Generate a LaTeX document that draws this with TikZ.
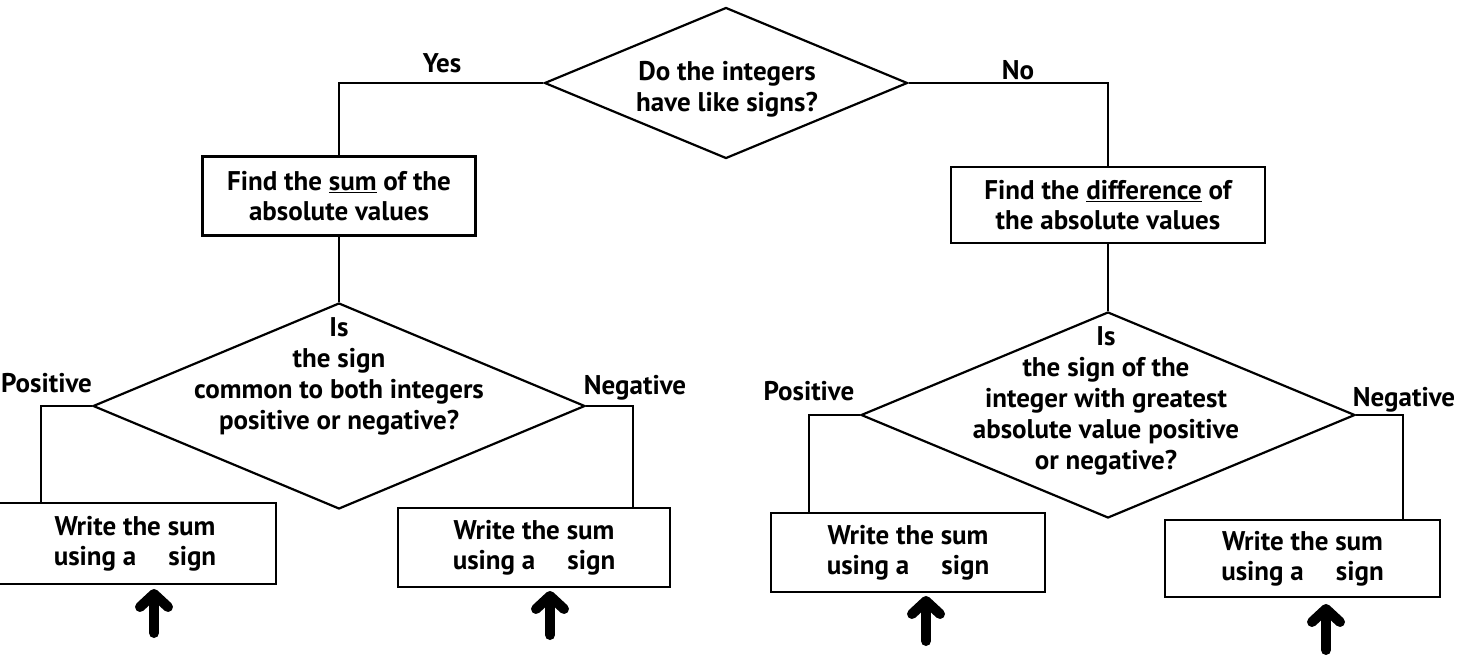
\documentclass[tikz,border=0pt]{standalone}
\usepackage{fontspec}
\setmainfont{PT Sans}
\usetikzlibrary{shapes.geometric,arrows.meta}
\begin{document}
\begin{tikzpicture}[x=1pt,y=-1pt,
  txt/.style={font=\bfseries\fontsize{27}{30}\selectfont, inner sep=0pt, align=center},
  dtxt/.style={font=\bfseries\fontsize{27}{31}\selectfont, inner sep=0pt, align=center},
  box/.style={draw, line width=2.2pt, inner sep=0pt, align=center, font=\bfseries\fontsize{27}{30}\selectfont},
  dia/.style={draw, diamond, line width=2.2pt, inner sep=0pt},
  conn/.style={line width=2.2pt},
  bigarrow/.style={line width=10pt, line cap=round, -{Straight Barb[length=13pt,width=28pt,line cap=round,line join=round]}}]
\useasboundingbox (0,0) rectangle (1468,655);

% decision diamonds
\node[dia, minimum width=363pt, minimum height=151pt] (d1) at (726,83) {};
\node[dtxt] (d1t) at (727,89) {Do the integers\\have like signs?};

\node[dia, minimum width=492pt, minimum height=206pt] (d2) at (339,406) {};
\node[dtxt] (d2t) at (339,376) {Is\\the sign\\common to both integers\\positive or negative?};

\node[dia, minimum width=494pt, minimum height=206pt] (d3) at (1108,415) {};
\node[dtxt] (d3t) at (1106,401) {Is\\the sign of the\\integer with greatest\\absolute value positive\\or negative?};

% process boxes
\node[box, minimum width=273pt, minimum height=79pt] (b1) at (339,196) {Find the \underline{sum} of the\\absolute values};
\node[box, minimum width=314pt, minimum height=76pt] (b2) at (1108,205) {Find the \underline{difference} of\\the absolute values};

\node[box, minimum width=282pt, minimum height=81pt] (b3) at (135,543.5) {Write the sum\\using a\hspace{32pt}sign};
\node[box, minimum width=272pt, minimum height=79pt] (b4) at (534,547.5) {Write the sum\\using a\hspace{32pt}sign};
\node[box, minimum width=274pt, minimum height=79pt] (b5) at (908,552.5) {Write the sum\\using a\hspace{32pt}sign};
\node[box, minimum width=275pt, minimum height=77pt] (b6) at (1302.5,558.5) {Write the sum\\using a\hspace{32pt}sign};

% connectors
\draw[conn] (d1.west) -| (b1.north);
\draw[conn] (d1.east) -| (b2.north);
\draw[conn] (b1.south) -- (d2.north);
\draw[conn] (b2.south) -- (d3.north);
\draw[conn] (d2.west) -| ([xshift=-94pt]b3.north);
\draw[conn] (d2.east) -| ([xshift=99pt]b4.north);
\draw[conn] (d3.west) -| ([xshift=-99pt]b5.north);
\draw[conn] (d3.east) -| ([xshift=100.5pt]b6.north);

% branch labels
\node[txt] (yes) at (442,63) {Yes};
\node[txt] (no) at (1018,70) {No};
\node[txt, anchor=west] (pos1) at (1,383) {Positive};
\node[txt] (neg1) at (635,388) {Negative};
\node[txt] (pos2) at (809,391) {Positive};
\node[txt] (neg2) at (1404,400) {Negative};

% hand-drawn arrows
\coordinate (a1s) at (154,633); \coordinate (a1e) at (154,589);
\coordinate (a2s) at (550,635); \coordinate (a2e) at (550,591);
\coordinate (a3s) at (926,641); \coordinate (a3e) at (926,596);
\coordinate (a4s) at (1326,650); \coordinate (a4e) at (1326,604);
\draw[bigarrow] (a1s) -- (a1e);
\draw[bigarrow] (a2s) -- (a2e);
\draw[bigarrow] (a3s) -- (a3e);
\draw[bigarrow] (a4s) -- (a4e);
\end{tikzpicture}
\end{document}
